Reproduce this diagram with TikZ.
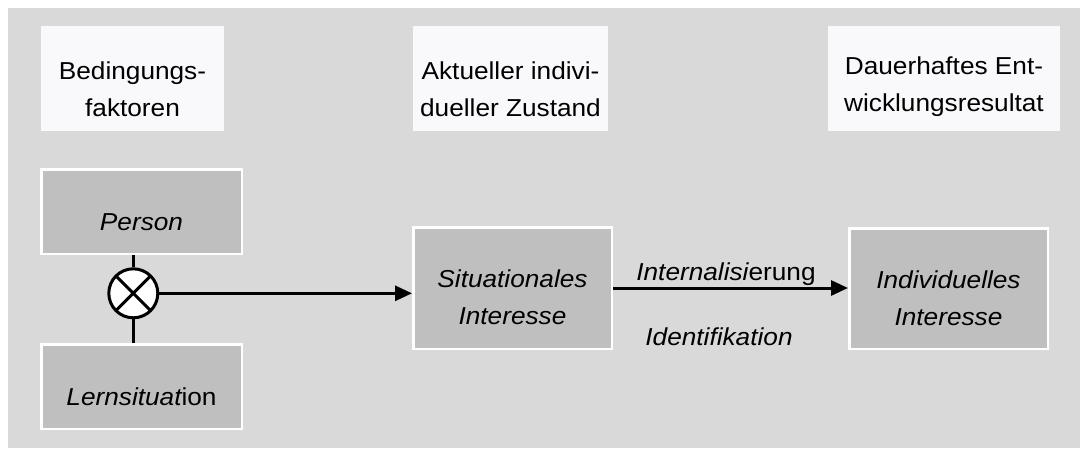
\documentclass[tikz,border=0pt]{standalone}
\usepackage{fontspec}
\setmainfont{Liberation Sans}[FakeStretch=1.07]
\usetikzlibrary{arrows.meta}
\definecolor{bgray}{HTML}{D9D9D9}
\definecolor{hdfill}{HTML}{F9F9FB}
\definecolor{boxfill}{HTML}{BFBFBF}
\begin{document}
\begin{tikzpicture}[x=1pt,y=-1pt,
  every node/.style={font=\fontsize{24.5}{37}\selectfont, inner sep=0pt},
  headbox/.style={fill=hdfill, minimum height=105pt},
  graybox/.style={fill=boxfill, draw=white, line width=2.5pt},
  txt/.style={align=center},
  conn/.style={line width=3pt},
  arr/.style={line width=3pt, -{Triangle[length=17pt,width=15pt]}}
]
\useasboundingbox (0,0) rectangle (1080,448);
\fill[white] (0,0) rectangle (1080,448);
\fill[bgray] (8,8) rectangle (1080,448);

% header boxes
\node[headbox, minimum width=183pt] (h1) at (132.5,78.5) {};
\node[headbox, minimum width=195pt] (h2) at (510.5,78.5) {};
\node[headbox, minimum width=232pt] (h3) at (944,78.5) {};
\node[txt] (t1) at ([yshift=-10.5pt]h1.center) {Bedingungs-\\faktoren};
\node[txt] (t2) at ([yshift=-10.5pt]h2.center) {Aktueller indivi-\\dueller Zustand};
\node[txt] (t3) at ([yshift=-8.5pt]h3.center) {Dauerhaftes Ent-\\wicklungsresultat};

% gray boxes
\node[graybox, minimum width=200.5pt, minimum height=84.5pt] (p) at (141.5,211.5) {};
\node[graybox, minimum width=200.5pt, minimum height=84.5pt] (l) at (141.5,386.5) {};
\node[graybox, minimum width=198.5pt, minimum height=121.5pt] (s) at (512.5,288) {};
\node[graybox, minimum width=198.5pt, minimum height=120.5pt] (i) at (948.5,288.5) {};
\node[txt] (tp) at ([yshift=-10.5pt]p.center) {\itshape Person};
\node[txt] (tl) at ([yshift=-9.75pt]l.center) {{\itshape Lernsituat}ion};
\node[txt] (ts) at ([yshift=-8.75pt]s.center) {\itshape Situationales\\\itshape Interesse};
\node[txt] (ti) at ([yshift=-9.25pt]i.center) {\itshape Individuelles\\\itshape Interesse};

% multiplication circle
\node[circle, draw, fill=white, line width=3pt, minimum size=49pt,
  path picture={\draw[line width=3pt] (path picture bounding box.north west) -- (path picture bounding box.south east)
                 (path picture bounding box.north east) -- (path picture bounding box.south west);}]
  (c) at (133.3,293.3) {};

\draw[conn] (p.south -| c) -- (c.north);
\draw[conn] (c.south) -- (l.north -| c);
\draw[arr] (c.east) -- (c.east -| s.west);
\draw[arr] (s.east) -- (s.east -| i.west);

\node[anchor=base] (lab1) at (726,280) {{\itshape Internalisi}erung};
\node[anchor=base] (lab2) at (719,345) {\itshape Identifikation};
\end{tikzpicture}
\end{document}
